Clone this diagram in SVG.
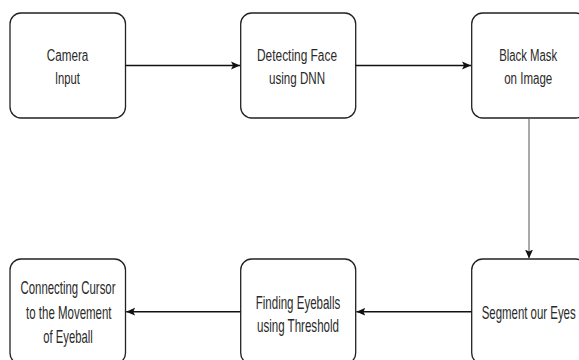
<svg xmlns="http://www.w3.org/2000/svg" width="579" height="360" viewBox="0 0 579 360">
<style>
.box{fill:#fff;stroke:#222;stroke-width:1.3}
.t{font-family:"Liberation Sans",Arial,sans-serif;fill:#2a2a2a;text-anchor:middle}
.s{font-size:16px}
.b{font-size:19px}
.c{fill:none;stroke:#111;stroke-width:1.5}
.v{fill:none;stroke:#555;stroke-width:1}
</style>
<defs>
<marker id="ah" markerWidth="10" markerHeight="10" refX="9" refY="5" orient="auto" markerUnits="userSpaceOnUse">
<path d="M0,1 L9,5 L0,9 L2,5 Z" fill="#111"/>
</marker>
</defs>
<rect width="579" height="360" fill="#fff"/>
<g id="camera">
<rect class="box" x="10" y="13" width="115.5" height="105" rx="11"/>
<text class="t s" x="67.5" y="61" textLength="41.5" lengthAdjust="spacingAndGlyphs">Camera</text>
<text class="t s" x="67.5" y="83.5" textLength="25" lengthAdjust="spacingAndGlyphs">Input</text>
</g>
<g id="detect">
<rect class="box" x="240.7" y="13" width="115" height="105" rx="11"/>
<text class="t s" x="297" y="61" textLength="80" lengthAdjust="spacingAndGlyphs">Detecting Face</text>
<text class="t s" x="297" y="83.5" textLength="56" lengthAdjust="spacingAndGlyphs">using DNN</text>
</g>
<g id="mask">
<rect class="box" x="471.7" y="13" width="115" height="105" rx="11"/>
<text class="t s" x="528.2" y="61" textLength="58" lengthAdjust="spacingAndGlyphs">Black Mask</text>
<text class="t s" x="528.2" y="83.5" textLength="48" lengthAdjust="spacingAndGlyphs">on Image</text>
</g>
<g id="segment">
<rect class="box" x="471.7" y="259" width="115" height="105" rx="11"/>
<text class="t b" x="528.7" y="319.3" textLength="94" lengthAdjust="spacingAndGlyphs">Segment our Eyes</text>
</g>
<g id="finding">
<rect class="box" x="240.7" y="259" width="115" height="105" rx="11"/>
<text class="t b" x="298" y="309" textLength="84.5" lengthAdjust="spacingAndGlyphs">Finding Eyeballs</text>
<text class="t b" x="298" y="332.3" textLength="82" lengthAdjust="spacingAndGlyphs">using Threshold</text>
</g>
<g id="cursor">
<rect class="box" x="10" y="259" width="115.5" height="105" rx="11"/>
<text class="t b" x="68" y="294" textLength="95" lengthAdjust="spacingAndGlyphs">Connecting Cursor</text>
<text class="t b" x="68.8" y="318.5" textLength="85.5" lengthAdjust="spacingAndGlyphs">to the Movement</text>
<text class="t b" x="68" y="343.3" textLength="49.3" lengthAdjust="spacingAndGlyphs">of Eyeball</text>
</g>
<g id="connectors">
<path class="c" d="M125.5,65.5 H240" marker-end="url(#ah)"/>
<path class="c" d="M355.7,65.5 H471" marker-end="url(#ah)"/>
<path class="v" d="M529,118 V258.5" marker-end="url(#ah)"/>
<path class="c" d="M471.7,311.7 H356.4" marker-end="url(#ah)"/>
<path class="c" d="M240.7,311.7 H126.2" marker-end="url(#ah)"/>
</g>
</svg>
